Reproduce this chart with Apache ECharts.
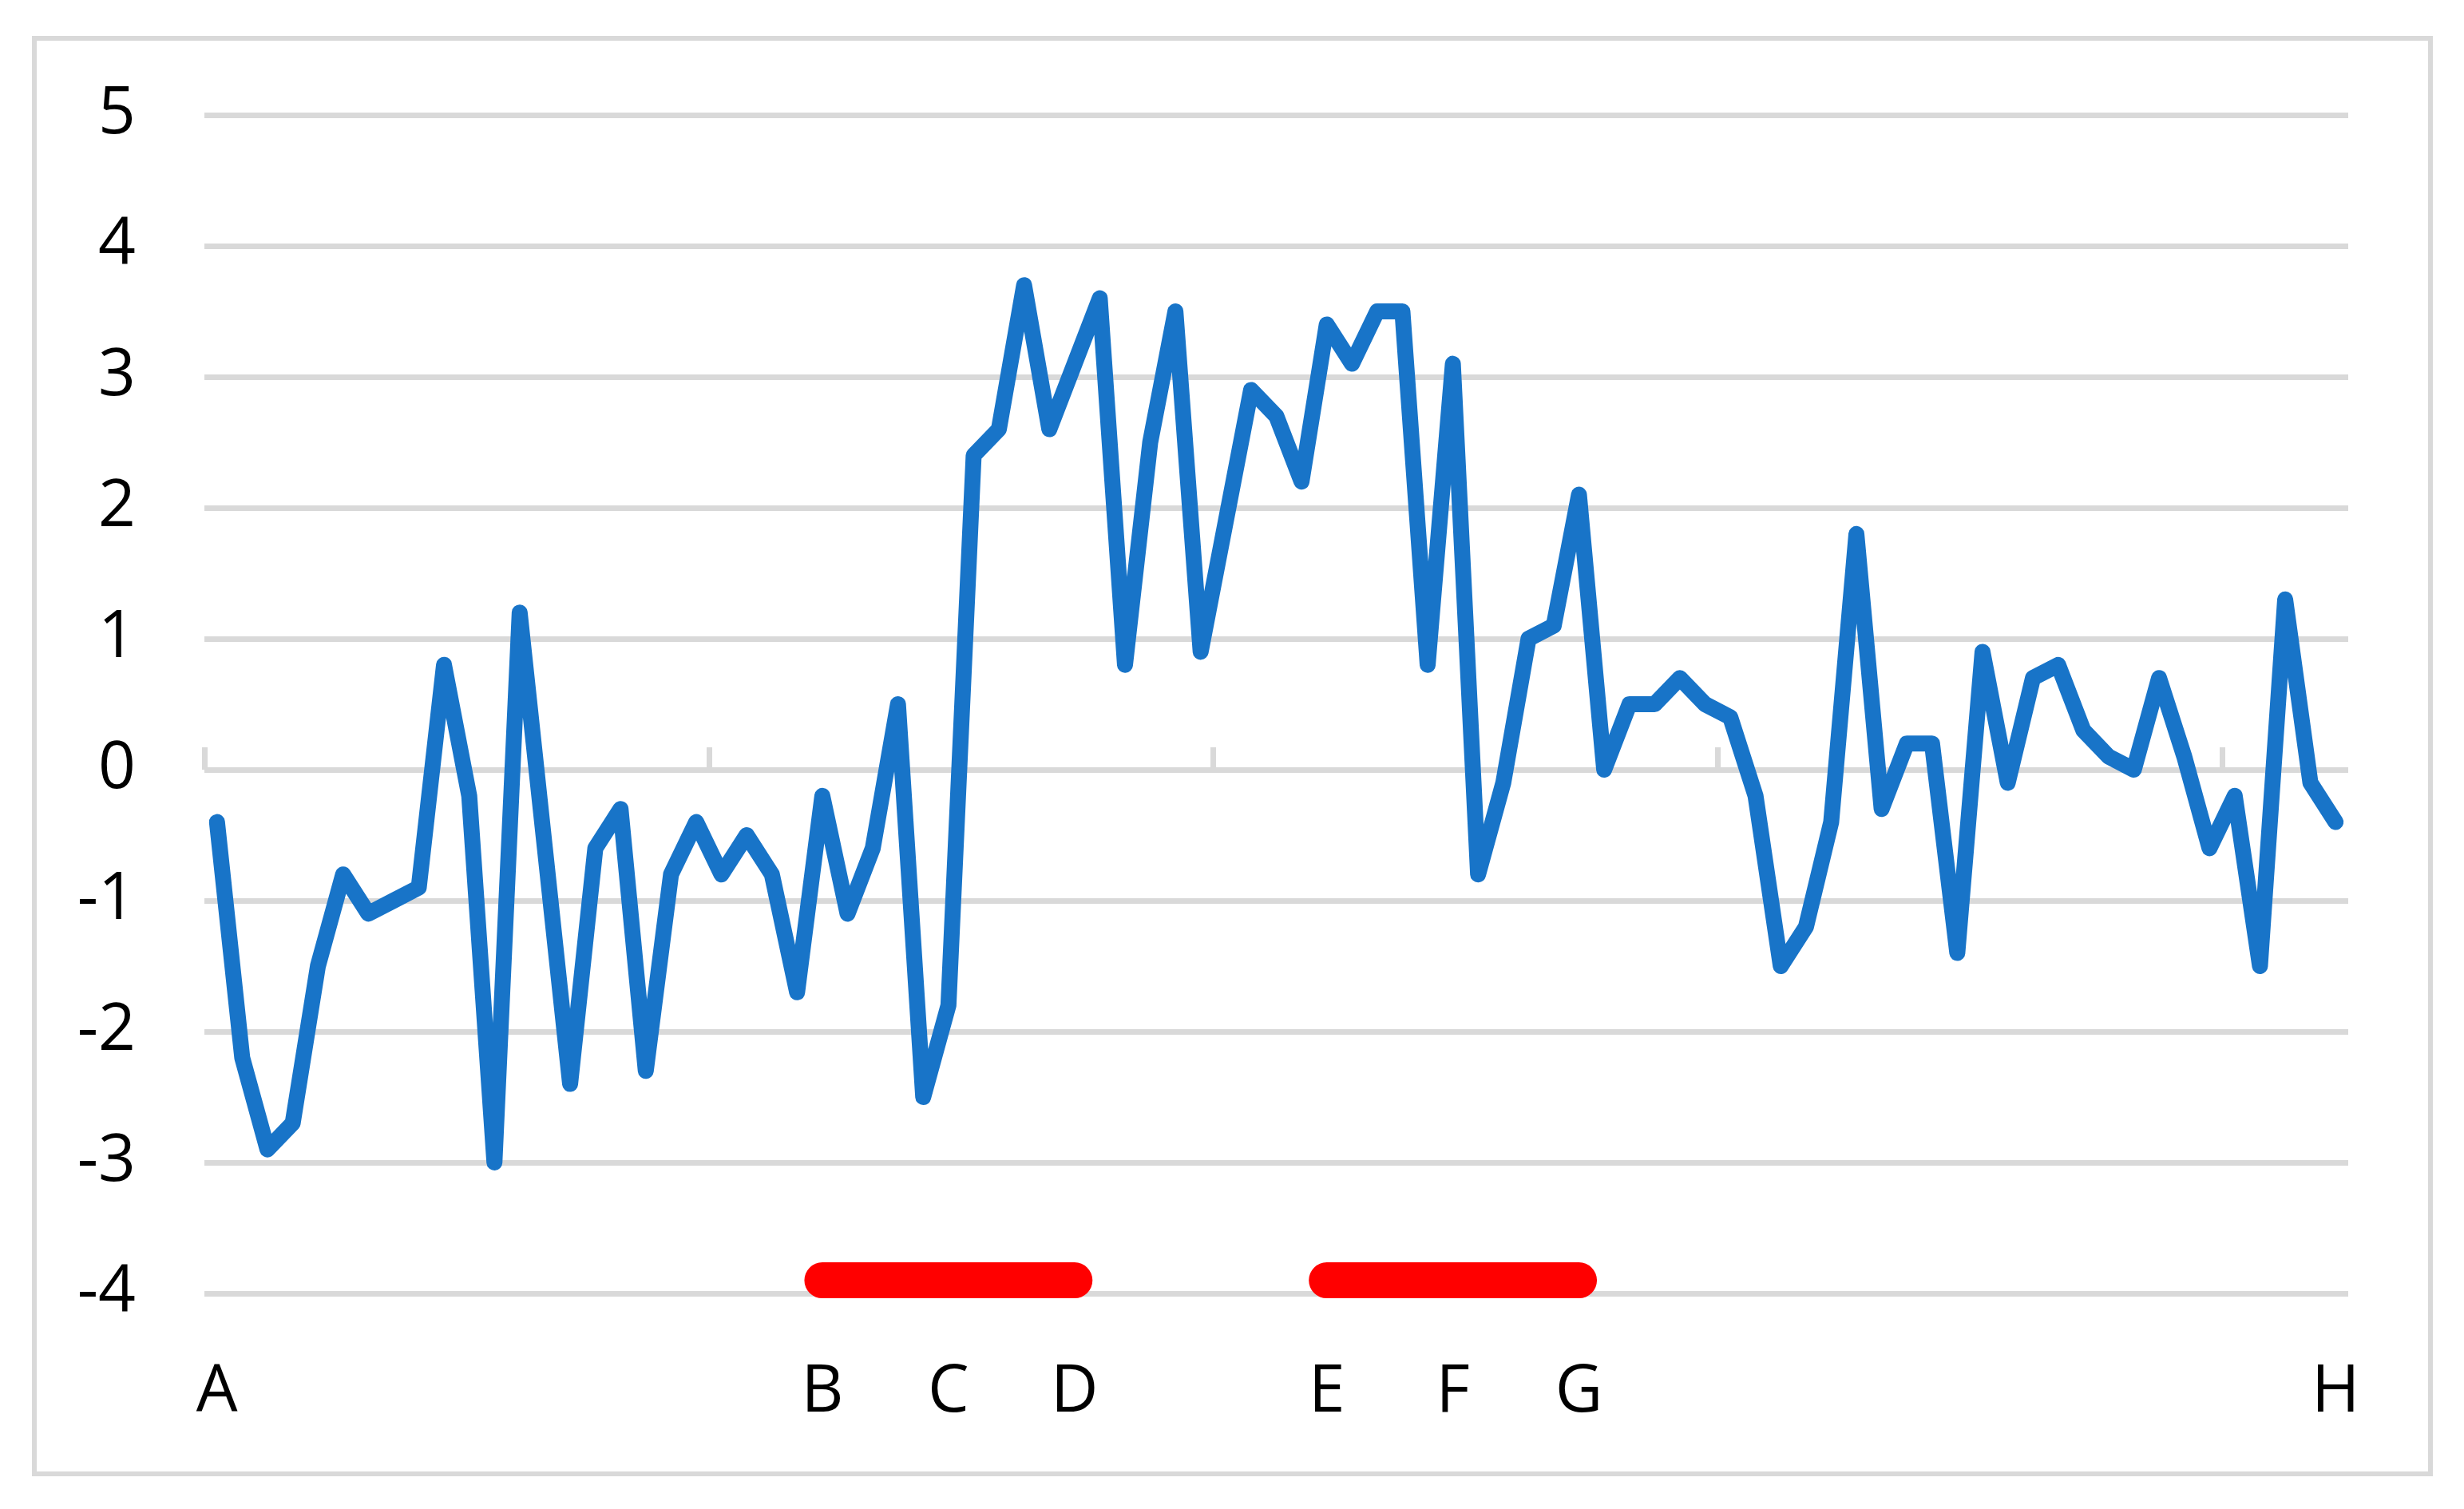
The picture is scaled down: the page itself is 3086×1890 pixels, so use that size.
<!DOCTYPE html>
<html>
<head>
<meta charset="utf-8">
<style>
  html, body { margin: 0; padding: 0; background: #ffffff; }
  #chart { width: 3086px; height: 1890px; }
</style>
<script src="https://cdn.jsdelivr.net/npm/echarts@6/dist/echarts.min.js"></script>
</head>
<body>
<div id="chart"></div>
<script>
// ---- data ----
const seriesValues = [
  -0.4, -2.2, -2.9, -2.7, -1.5, -0.8, -1.1, -1.0, -0.9, 0.8,
  -0.2, -3.0, 1.2, -0.6, -2.4, -0.6, -0.3, -2.3, -0.8, -0.4,
  -0.8, -0.5, -0.8, -1.7, -0.2, -1.1, -0.6, 0.5, -2.5, -1.8,
  2.4, 2.6, 3.7, 2.6, 3.1, 3.6, 0.8, 2.5, 3.5, 0.9,
  1.9, 2.9, 2.7, 2.2, 3.4, 3.1, 3.5, 3.5, 0.8, 3.1,
  -0.8, -0.1, 1.0, 1.1, 2.1, 0.0, 0.5, 0.5, 0.7, 0.5,
  0.4, -0.2, -1.5, -1.2, -0.4, 1.8, -0.3, 0.2, 0.2, -1.4,
  0.9, -0.1, 0.7, 0.8, 0.3, 0.1, 0.0, 0.7, 0.1, -0.6,
  -0.2, -1.5, 1.3, -0.1, -0.4
];
const labelLetters = ['A', 'B', 'C', 'D', 'E', 'F', 'G', 'H'];
const labelIndices = [0, 24, 29, 34, 44, 49, 54, 84];
const redSegments = [[24, 34], [44, 54]];   // category index ranges of the red bars
const redLevel = -3.9;
const yTicks = { min: -4, max: 5, interval: 1 };
const zeroTickBoundaries = [0, 20, 40, 60, 80]; // category boundaries carrying tick marks on the zero line

// ---- build tables for the library ----
const categories = seriesValues.map(function (v, i) {
  const k = labelIndices.indexOf(i);
  return k >= 0 ? labelLetters[k] : '';
});
const redData = seriesValues.map(function (v, i) {
  for (let s = 0; s < redSegments.length; s++) {
    if (i >= redSegments[s][0] && i <= redSegments[s][1]) return redLevel;
  }
  return null;
});

const FONT = '"Open Sans", "Noto Sans", sans-serif';
const GRID_COLOR = '#d9d9d9';

const chart = echarts.init(document.getElementById('chart'), null, { renderer: 'canvas' });
chart.setOption({
  backgroundColor: '#ffffff',
  animation: false,
  graphic: [{
    type: 'rect',
    shape: { x: 43, y: 48, width: 3001, height: 1798 },
    style: { fill: 'none', stroke: GRID_COLOR, lineWidth: 6 },
    silent: true,
    z: -10
  }],
  grid: { left: 256, right: 145, top: 144, bottom: 270, containLabel: false, outerBoundsMode: 'none' },
  xAxis: [{
    type: 'category',
    data: categories,
    boundaryGap: true,
    axisLine: { show: false, onZero: false },
    axisTick: { show: false },
    splitLine: { show: false },
    axisLabel: {
      interval: 0,
      margin: 84,
      color: '#000000',
      fontFamily: FONT,
      fontSize: 82
    }
  }, {
    type: 'value',
    min: 0,
    max: seriesValues.length,
    position: 'bottom',
    axisLine: { show: false, onZero: true },
    axisTick: {
      show: true,
      inside: true,
      length: 28,
      customValues: zeroTickBoundaries,
      lineStyle: { color: GRID_COLOR, width: 7 }
    },
    axisLabel: { show: false },
    splitLine: { show: false }
  }],
  yAxis: {
    type: 'value',
    min: yTicks.min,
    max: yTicks.max,
    interval: yTicks.interval,
    axisLine: { show: false },
    axisTick: { show: false },
    splitLine: { show: true, lineStyle: { color: GRID_COLOR, width: 7 } },
    axisLabel: {
      margin: 86,
      color: '#000000',
      fontFamily: FONT,
      fontSize: 82,
      padding: [6, 0, 0, 0]
    }
  },
  series: [{
    type: 'line',
    xAxisIndex: 0,
    data: seriesValues,
    symbol: 'none',
    lineStyle: { color: '#1874C8', width: 20, join: 'round', cap: 'round' },
    z: 3
  }, {
    type: 'line',
    xAxisIndex: 0,
    data: redData,
    connectNulls: false,
    symbol: 'none',
    lineStyle: { color: '#ff0000', width: 45, cap: 'round', join: 'round' },
    z: 2
  }]
});
</script>
</body>
</html>
